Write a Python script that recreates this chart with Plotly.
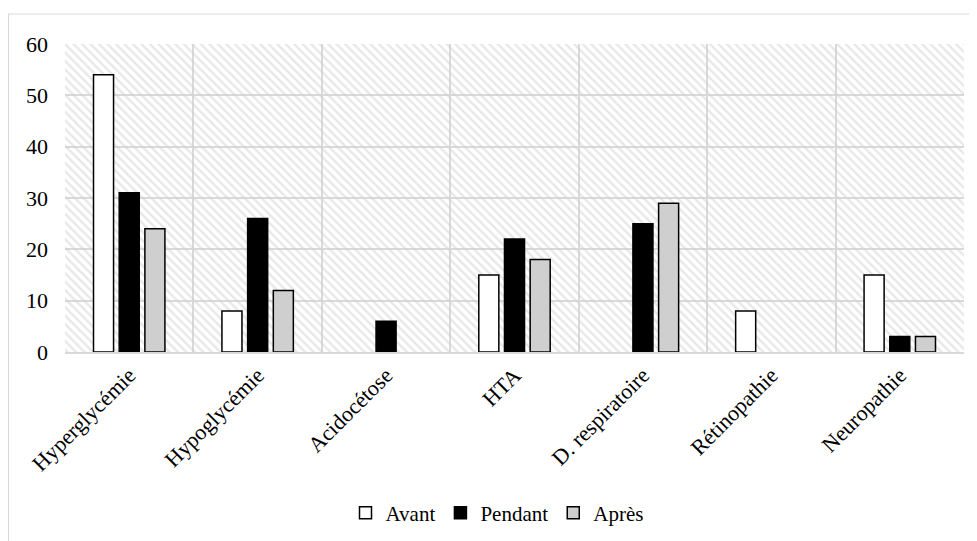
import plotly.graph_objects as go

categories = ["Hyperglycémie", "Hypoglycémie", "Acidocétose", "HTA",
              "D. respiratoire", "Rétinopathie", "Neuropathie"]
avant = [54, 8, 0, 15, 0, 8, 15]
pendant = [31, 26, 6, 22, 25, 0, 3]
apres = [24, 12, 0, 18, 29, 0, 3]
y_ticks = [0, 10, 20, 30, 40, 50, 60]
y_max = 60

FONT = "Liberation Serif"
GRID = "#d9d9d9"
FS = 22

# page body has an 8px default margin: figure occupies (8..977, 8..541)
W, H = 969, 533
L, R, T, B = 57, 13, 36, 189
PW, PH = W - L - R, H - T - B

fig = go.Figure()

# hatched plot-area background (decorative), on a hidden linear axis
fig.add_trace(go.Bar(
    x=[0.5], y=[y_max], width=[1], xaxis="x", yaxis="y",
    marker=dict(color="rgba(0,0,0,0)", line=dict(width=0),
                pattern=dict(shape="\\", fgcolor="#d0d0d0", bgcolor="rgba(0,0,0,0)",
                             size=6, solidity=0.4, fillmode="overlay")),
    showlegend=False, hoverinfo="skip",
))

series = [("Avant", avant, "#ffffff"), ("Pendant", pendant, "#000000"), ("Après", apres, "#cfcfcf")]
for name, vals, col in series:
    fig.add_trace(go.Bar(
        name=name, x=categories, y=[v if v else None for v in vals], xaxis="x2", yaxis="y",
        marker=dict(color=col, line=dict(color="#000000", width=1.5)),
    ))

fig.update_layout(
    width=W, height=H,
    margin=dict(l=L, r=R, t=T, b=B, autoexpand=False),
    paper_bgcolor="white", plot_bgcolor="white",
    font=dict(family=FONT, size=FS, color="#000000"),
    barmode="group", bargap=0.4, bargroupgap=0.22,
    xaxis=dict(range=[0, 1], visible=False, showgrid=False, zeroline=False, fixedrange=True),
    xaxis2=dict(overlaying="x", side="bottom", type="category",
                tickson="boundaries", showgrid=True, gridcolor=GRID, gridwidth=1.5,
                ticks="", tickangle=-45, tickfont=dict(size=FS, family=FONT),
                showline=True, linecolor=GRID, linewidth=1.5,
                range=[-0.5, len(categories) - 0.5]),
    yaxis=dict(range=[0, y_max], tickvals=y_ticks, showgrid=True, gridcolor=GRID,
               gridwidth=1.5, zeroline=False, ticks="", ticklabelstandoff=16,
               tickfont=dict(size=FS, family=FONT)),
    legend=dict(orientation="h", x=(497 - 8 - L) / PW, xanchor="center",
                y=(T + PH - (513 - 8)) / PH, yanchor="middle",
                font=dict(size=FS - 1, family=FONT), itemwidth=30, tracegroupgap=0),
    shapes=[dict(type="rect", xref="paper", yref="paper",
                 x0=(0.5 - L) / PW, x1=(968.5 - L) / PW,
                 y0=(PH + T - 560) / PH, y1=(PH + T - 6) / PH,
                 line=dict(color=GRID, width=1.2), fillcolor="rgba(0,0,0,0)", layer="below")],
)

fig.write_html("out.html")
